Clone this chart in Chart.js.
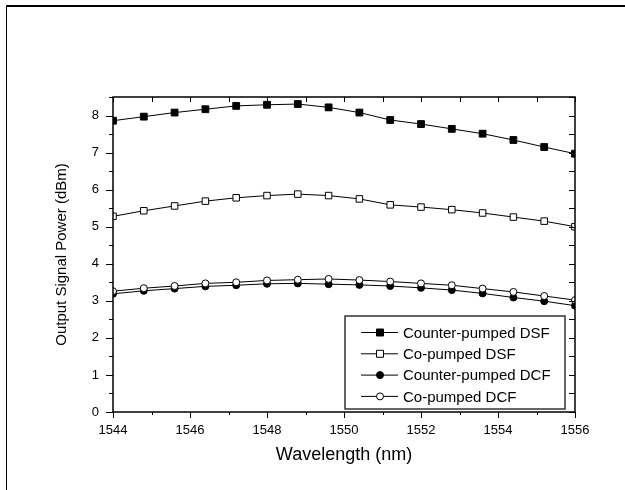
<!DOCTYPE html>
<html>
<head>
<meta charset="utf-8">
<script src="https://cdn.jsdelivr.net/npm/chart.js@4.4.1/dist/chart.umd.min.js"></script>
<style>
  html, body { margin: 0; padding: 0; background: #fff; }
  #wrap { position: relative; width: 625px; height: 490px; }
  #frame { position: absolute; left: 6px; top: 5px; right: 0; bottom: 0; border-top: 2px solid #000; border-left: 1.5px solid #000; }
  #power-chart { position: absolute; left: 0; top: 0; }
</style>
</head>
<body>
<div id="wrap">
  <div id="frame"></div>
  <canvas id="power-chart" width="625" height="490"></canvas>
</div>
<script>
const wavelengths = [1544, 1544.8, 1545.6, 1546.4, 1547.2, 1548, 1548.8, 1549.6,
  1550.4, 1551.2, 1552, 1552.8, 1553.6, 1554.4, 1555.2, 1556];
const counterDSF = [7.86, 7.97, 8.08, 8.17, 8.26, 8.29, 8.31, 8.22, 8.08, 7.88, 7.77, 7.64, 7.51, 7.34, 7.15, 6.97];
const coDSF = [5.28, 5.43, 5.56, 5.69, 5.78, 5.84, 5.88, 5.84, 5.75, 5.59, 5.53, 5.46, 5.37, 5.26, 5.15, 5.00];
const counterDCF = [3.19, 3.27, 3.33, 3.39, 3.42, 3.46, 3.47, 3.45, 3.43, 3.40, 3.35, 3.29, 3.20, 3.09, 2.99, 2.87];
const coDCF = [3.26, 3.34, 3.40, 3.47, 3.50, 3.55, 3.57, 3.59, 3.56, 3.52, 3.47, 3.42, 3.33, 3.24, 3.13, 3.02];
const xTicks = [1544, 1546, 1548, 1550, 1552, 1554, 1556];
const yTicks = [0, 1, 2, 3, 4, 5, 6, 7, 8];

const fontFamily = "'Liberation Sans', Arial, Helvetica, sans-serif";

function points(ys) {
  return ys.map((y, i) => ({ x: wavelengths[i], y: y }));
}

function series(label, ys, style, fill, radius, order) {
  return {
    label: label,
    data: points(ys),
    borderColor: "#000",
    borderWidth: 1,
    pointStyle: style,
    pointRadius: radius,
    pointBackgroundColor: fill,
    pointBorderColor: "#000",
    pointBorderWidth: 1,
    order: order,
  };
}

// box round the plot, ticks on all four sides
const frameTicks = {
  id: "frameTicks",
  afterDraw(chart) {
    const ctx = chart.ctx;
    const a = chart.chartArea;
    const xs = chart.scales.x;
    const ys = chart.scales.y;
    ctx.save();
    ctx.strokeStyle = "#000";
    ctx.lineWidth = 1;
    ctx.beginPath();
    for (let v = xs.min; v <= xs.max; v += 1) {
      const px = Math.round(xs.getPixelForValue(v)) + 0.5;
      const len = v % 2 === 0 ? 6 : 3;
      ctx.moveTo(px, a.bottom); ctx.lineTo(px, a.bottom + len);
      ctx.moveTo(px, a.top); ctx.lineTo(px, a.top + 5);
    }
    for (let v = ys.min; v <= ys.max + 0.001; v += 0.5) {
      const py = Math.round(ys.getPixelForValue(v)) + 0.5;
      const len = v % 1 === 0 ? 7 : 4;
      ctx.moveTo(a.left, py); ctx.lineTo(a.left - len, py);
      ctx.moveTo(a.right, py); ctx.lineTo(a.right - 6, py);
    }
    ctx.stroke();
    ctx.lineWidth = 1.5;
    ctx.strokeRect(a.left, a.top, a.right - a.left, a.bottom - a.top);
    ctx.restore();
  },
};

// legend box inside the plot, lower right
const insideLegend = {
  id: "insideLegend",
  afterDraw(chart) {
    const ctx = chart.ctx;
    const sets = chart.data.datasets;
    const bx = 345, by = 316, bw = 220, bh = 93;
    ctx.save();
    ctx.fillStyle = "#fff";
    ctx.fillRect(bx, by, bw, bh);
    ctx.strokeStyle = "#333";
    ctx.lineWidth = 1.5;
    ctx.strokeRect(bx, by, bw, bh);
    ctx.font = "15px " + fontFamily;
    ctx.textBaseline = "middle";
    sets.forEach((ds, i) => {
      const cy = 332.5 + i * 21.3;
      ctx.strokeStyle = "#000";
      ctx.lineWidth = 1;
      ctx.beginPath();
      ctx.moveTo(361, cy); ctx.lineTo(398, cy);
      ctx.stroke();
      ctx.fillStyle = ds.pointBackgroundColor;
      ctx.beginPath();
      if (ds.pointStyle === "rect") {
        ctx.rect(376.5, cy - 3.5, 7, 7);
      } else {
        ctx.arc(380, cy, 3.5, 0, Math.PI * 2);
      }
      ctx.fill();
      ctx.stroke();
      ctx.fillStyle = "#000";
      ctx.fillText(ds.label, 403, cy + 1);
    });
    ctx.restore();
  },
};

document.addEventListener("DOMContentLoaded", function () {
  const ctx = document.getElementById("power-chart");
  new Chart(ctx, {
    type: "line",
    data: {
      datasets: [
        series("Counter-pumped DSF", counterDSF, "rect", "#000", 4.8, 2),
        series("Co-pumped DSF", coDSF, "rect", "#fff", 4.6, 3),
        series("Counter-pumped DCF", counterDCF, "circle", "#000", 3.5, 1),
        series("Co-pumped DCF", coDCF, "circle", "#fff", 3.5, 0),
      ],
    },
    options: {
      responsive: false,
      animation: false,
      layout: { padding: { left: 0, top: 97, right: 50, bottom: 0 } },
      plugins: {
        legend: { display: false },
        tooltip: { enabled: false },
      },
      scales: {
        x: {
          type: "linear",
          min: 1544,
          max: 1556,
          grid: { display: false, drawTicks: false },
          border: { display: false },
          afterBuildTicks: (s) => { s.ticks = xTicks.map((v) => ({ value: v })); },
          afterFit: (s) => { s.height = 78; },
          ticks: {
            color: "#000",
            font: { family: fontFamily, size: 13 },
            padding: 11,
            maxRotation: 0,
            autoSkip: false,
            callback: (v) => String(v),
          },
          title: {
            display: true,
            text: "Wavelength (nm)",
            color: "#000",
            font: { family: fontFamily, size: 18 },
            padding: { top: 0, bottom: 24 },
          },
        },
        y: {
          type: "linear",
          min: 0,
          max: 8.5,
          grid: { display: false, drawTicks: false },
          border: { display: false },
          afterBuildTicks: (s) => { s.ticks = yTicks.map((v) => ({ value: v })); },
          afterFit: (s) => { s.width = 113; },
          ticks: {
            color: "#000",
            font: { family: fontFamily, size: 13 },
            padding: 14,
            callback: (v) => String(v),
          },
          title: {
            display: true,
            text: "Output Signal Power (dBm)",
            color: "#000",
            font: { family: fontFamily, size: 15 },
            padding: { top: 52.5, bottom: 0 },
          },
        },
      },
    },
    plugins: [frameTicks, insideLegend],
  });
});
</script>
</body>
</html>
